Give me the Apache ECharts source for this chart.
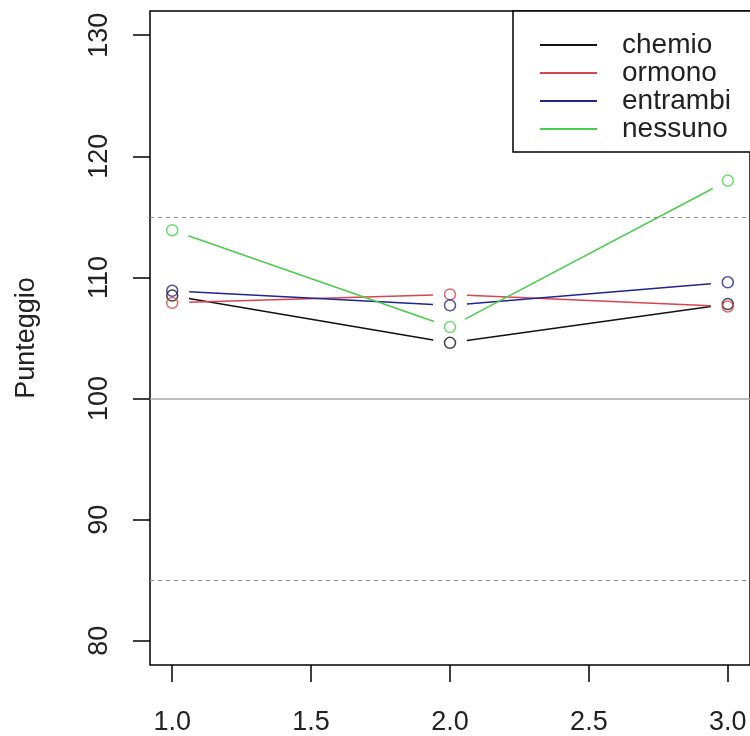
<!DOCTYPE html>
<html>
<head>
<meta charset="utf-8">
<script src="https://cdn.jsdelivr.net/npm/echarts@6/dist/echarts.min.js"></script>
<style>html,body{margin:0;padding:0;background:#fff;}#chart{width:750px;height:736px;}</style>
</head>
<body>
<div id="chart"></div>
<script>
// ---- data ----
const xValues = [1, 2, 3];
const seriesNames = ['chemio', 'ormono', 'entrambi', 'nessuno'];
const chemio = [108.5, 104.6, 107.8];
const ormono = [107.9, 108.6, 107.6];
const entrambi = [108.9, 107.7, 109.6];
const nessuno = [113.9, 105.9, 118.0];
const yTicks = [80, 90, 100, 110, 120, 130];
const xTicks = [1.0, 1.5, 2.0, 2.5, 3.0];
const dashedRefs = [85, 115];
const solidRefs = [100];

const seriesValues = [chemio, ormono, entrambi, nessuno];
const colors = ['#111111', '#d9434f', '#23238e', '#4ccc4c'];
const FONT = '"Liberation Sans", Arial, sans-serif';

const chart = echarts.init(document.getElementById('chart'), null, {renderer: 'canvas'});

function segRender(params, api) {
  const p1 = api.coord([api.value(0), api.value(1)]);
  const p2 = api.coord([api.value(2), api.value(3)]);
  const dx = p2[0] - p1[0], dy = p2[1] - p1[1];
  const len = Math.hypot(dx, dy);
  const g = 17;
  if (len <= 2 * g) return;
  const ux = dx / len, uy = dy / len;
  return {
    type: 'line',
    shape: {x1: p1[0] + ux * g, y1: p1[1] + uy * g, x2: p2[0] - ux * g, y2: p2[1] - uy * g},
    style: {stroke: api.visual('color'), lineWidth: 1.5}
  };
}

const series = [];
seriesNames.forEach((name, i) => {
  const vals = seriesValues[i];
  const segs = [];
  for (let k = 0; k < xValues.length - 1; k++) {
    segs.push([xValues[k], vals[k], xValues[k + 1], vals[k + 1]]);
  }
  series.push({
    type: 'custom',
    name: name,
    renderItem: segRender,
    itemStyle: {color: colors[i]},
    encode: {x: [0, 2], y: [1, 3]},
    data: segs,
    silent: true,
    z: 3
  });
  series.push({
    type: 'scatter',
    name: name + '_pts',
    symbol: 'circle',
    symbolSize: 11,
    itemStyle: {color: 'rgba(0,0,0,0)', borderColor: colors[i], borderWidth: 1.5},
    data: xValues.map((x, k) => [x, vals[k]]),
    silent: true,
    z: 4
  });
});

series.push({
  type: 'line',
  name: 'refs',
  data: [],
  silent: true,
  markLine: {
    silent: true,
    symbol: 'none',
    label: {show: false},
    animation: false,
    data: dashedRefs.map(v => ({yAxis: v, lineStyle: {type: [4, 4], color: '#8a8a8a', width: 1.2}}))
      .concat(solidRefs.map(v => ({yAxis: v, lineStyle: {type: 'solid', color: '#a8a8a8', width: 1.5}})))
  },
  z: 1
});

chart.setOption({
  animation: false,
  backgroundColor: '#ffffff',
  grid: {
    left: 150, top: 11, width: 601.6, height: 654.7,
    show: true, borderColor: '#000', borderWidth: 1.5, backgroundColor: 'transparent'
  },
  xAxis: {
    type: 'value',
    min: 0.92, max: 3.08,
    splitLine: {show: false},
    axisLine: {show: false},
    axisTick: {show: true, inside: false, length: 17, customValues: xTicks, lineStyle: {color: '#000', width: 1.5}},
    axisLabel: {
      customValues: xTicks,
      formatter: v => v.toFixed(1),
      margin: 44,
      fontSize: 27, fontFamily: FONT, color: '#222'
    }
  },
  yAxis: {
    type: 'value',
    min: 78, max: 132,
    name: 'Punteggio',
    nameLocation: 'middle',
    nameGap: 110,
    nameRotate: 90,
    nameTextStyle: {fontSize: 27, fontFamily: FONT, color: '#222'},
    splitLine: {show: false},
    axisLine: {show: false},
    axisTick: {show: true, inside: false, length: 17, customValues: yTicks, lineStyle: {color: '#000', width: 1.5}},
    axisLabel: {
      customValues: yTicks,
      rotate: 90,
      margin: 37,
      fontSize: 27, fontFamily: FONT, color: '#222'
    }
  },
  legend: {
    data: seriesNames.map((n, i) => ({name: n, itemStyle: {color: colors[i]}})),
    orient: 'vertical',
    left: 513, top: 11,
    icon: 'rect',
    itemWidth: 57, itemHeight: 2,
    itemGap: 0,
    padding: [20, 60, 9, 27],
    backgroundColor: '#fff',
    borderColor: '#000', borderWidth: 1.5, borderRadius: 0,
    selectedMode: false,
    textStyle: {fontSize: 28, fontFamily: FONT, color: '#222', lineHeight: 28, padding: [0, 0, 0, 20]}
  },
  series: series
});
</script>
</body>
</html>
